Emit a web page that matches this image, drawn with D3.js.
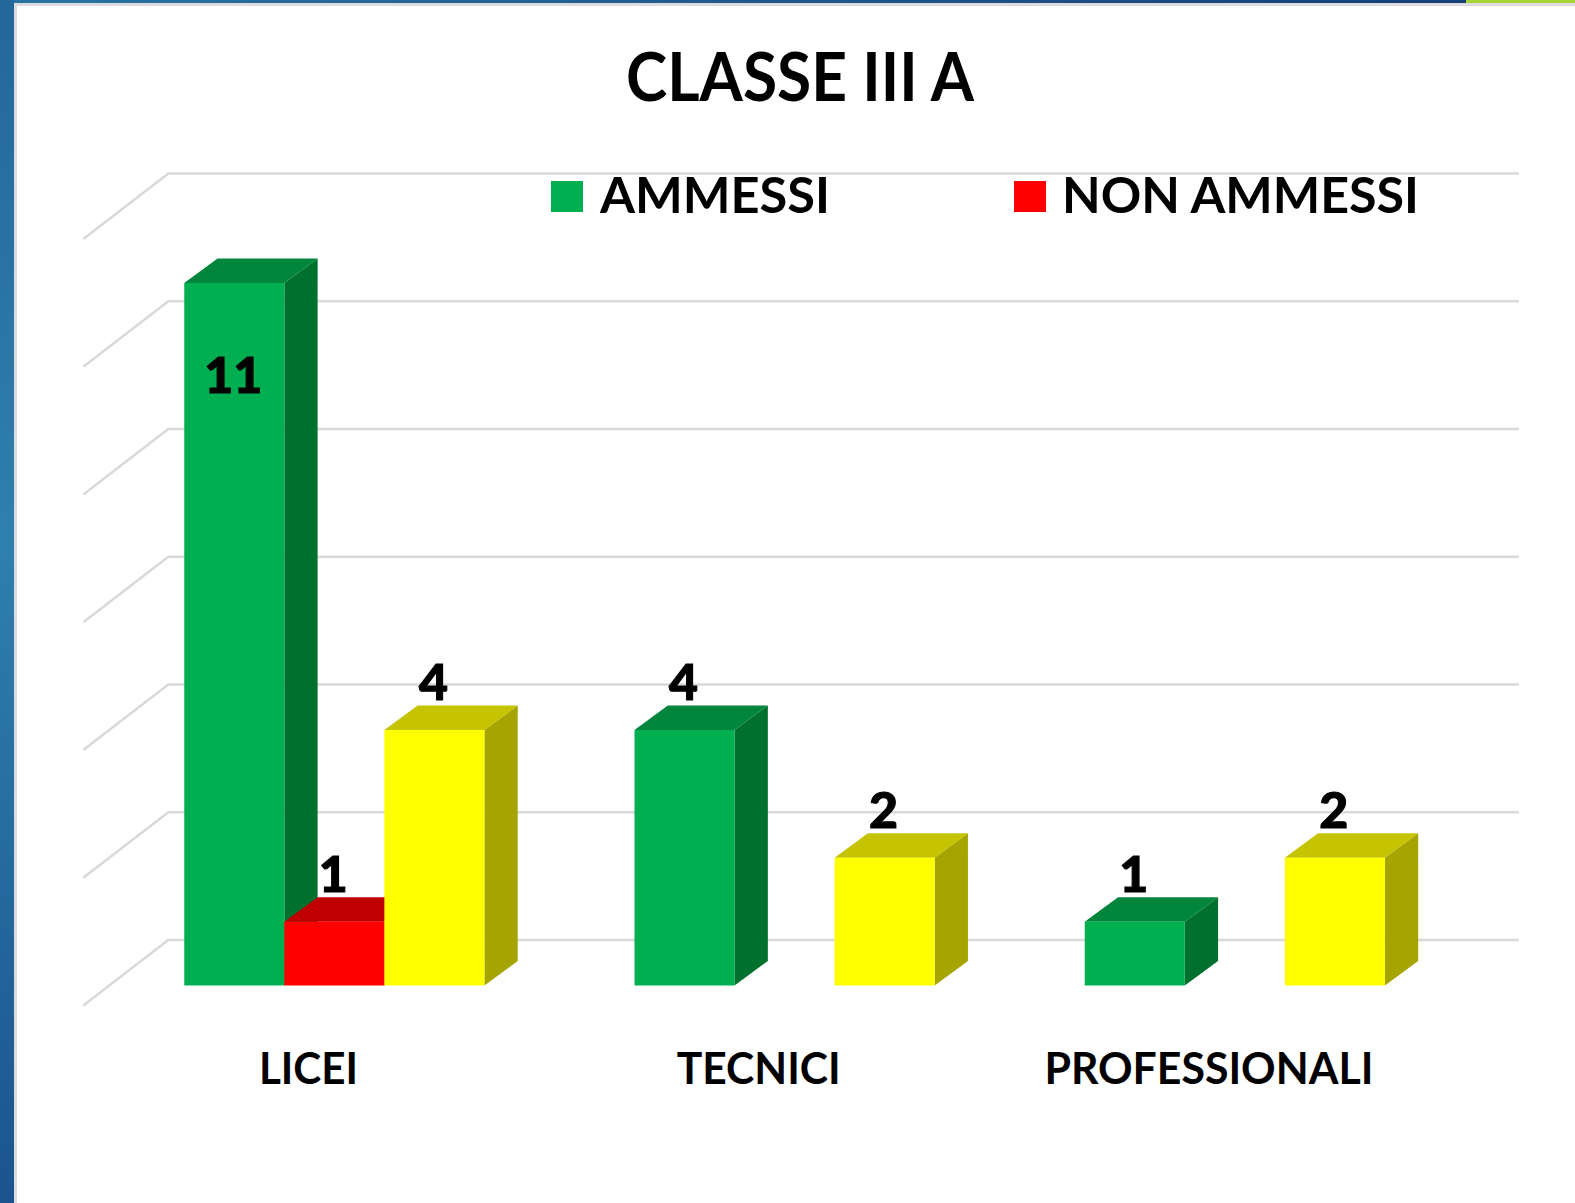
<!DOCTYPE html>
<html>
<head>
<meta charset="utf-8">
<script src="https://cdn.jsdelivr.net/npm/d3@7"></script>
<style>
  html, body { margin: 0; padding: 0; background: #ffffff; }
  svg { display: block; }
  text { font-family: Lato, "Open Sans", "DejaVu Sans", sans-serif; font-weight: 700; fill: #000; }
  .vlabel { font-weight: 900; stroke: #000; stroke-width: 1.1px; }
</style>
</head>
<body>
<svg id="chart" width="1575" height="1203"></svg>
<script>
// ---- data ----
const categories = ["LICEI", "TECNICI", "PROFESSIONALI"];
const seriesKeys = ["ammessi", "nonAmmessi", "terza"];
const legendLabels = ["AMMESSI", "NON AMMESSI"];
const ammessi = [11, 4, 1];
const nonAmmessi = [1, null, null];
const terzaSerie = [4, 2, 2];
const yTicks = [0, 2, 4, 6, 8, 10, 12];
const chartTitle = "CLASSE III A";

const seriesValues = { ammessi: ammessi, nonAmmessi: nonAmmessi, terza: terzaSerie };
const palette = {
  ammessi:    { front: "#00B050", top: "#00853C", side: "#00702F" },
  nonAmmessi: { front: "#FF0000", top: "#C00000", side: "#9E0000" },
  terza:      { front: "#FFFF00", top: "#C6C300", side: "#A6A400" }
};

const svg = d3.select("#chart");

// ---- frame decoration ----
const defs = svg.append("defs");
const lg = defs.append("linearGradient").attr("id", "leftBlue").attr("x1", 0).attr("y1", 0).attr("x2", 0).attr("y2", 1);
lg.append("stop").attr("offset", "0%").attr("stop-color", "#24679a");
lg.append("stop").attr("offset", "45%").attr("stop-color", "#2e80ad");
lg.append("stop").attr("offset", "100%").attr("stop-color", "#1b548e");
const tg = defs.append("linearGradient").attr("id", "topBlue").attr("x1", 0).attr("y1", 0).attr("x2", 1).attr("y2", 0);
tg.append("stop").attr("offset", "0%").attr("stop-color", "#2a74a5");
tg.append("stop").attr("offset", "100%").attr("stop-color", "#173f78");

svg.append("rect").attr("x", 0).attr("y", 0).attr("width", 1575).attr("height", 1203).attr("fill", "#ffffff");
svg.append("rect").attr("x", 14).attr("y", 3).attr("width", 1561).attr("height", 3).attr("fill", "#dcdcdc");
svg.append("rect").attr("x", 14).attr("y", 3).attr("width", 3).attr("height", 1200).attr("fill", "#dcdcdc");
svg.append("rect").attr("x", 0).attr("y", 0).attr("width", 1466).attr("height", 3).attr("fill", "url(#topBlue)");
svg.append("rect").attr("x", 1466).attr("y", 0).attr("width", 109).attr("height", 3).attr("fill", "#a9d238");
svg.append("rect").attr("x", 0).attr("y", 0).attr("width", 14).attr("height", 1203).attr("fill", "url(#leftBlue)");

// ---- oblique 3D projection ----
const X0 = 168.3, Y0 = 940, W = 1350.7, H = 766.5;
const DX = -85, DY = 65.5;          // back (z=0) -> front (z=1)
const ZB = 0.32, ZF = 0.695;        // bar depth range
const BAR_DX = -33.3, BAR_DY = 24.5; // bar depth vector (back -> front face)

const xBand = d3.scaleBand().domain(categories).range([0, W]).paddingInner(1 / 3).paddingOuter(1 / 6);
const xSeries = d3.scaleBand().domain(seriesKeys).range([0, xBand.bandwidth()]);
const y = d3.scaleLinear().domain([0, 12]).range([0, H]);

function P(x, v, z) { return [X0 + x + z * DX, Y0 - y(v) + z * DY]; }
const back = p => [p[0] - BAR_DX, p[1] - BAR_DY];
const poly = pts => "M" + pts.map(p => p[0].toFixed(2) + "," + p[1].toFixed(2)).join("L") + "Z";

// ---- gridlines (back wall + side wall) ----
const grid = svg.append("g").attr("fill", "none").attr("stroke", "#d9d9d9").attr("stroke-width", 2.5);
yTicks.forEach(t => {
  const a = P(0, t, 0), b = P(W, t, 0), c = P(0, t, 1);
  grid.append("path").attr("d", `M${c[0]},${c[1]}L${a[0]},${a[1]}L${b[0]},${b[1]}`);
});

// ---- bars ----
const bars = svg.append("g");
const labels = svg.append("g").attr("text-anchor", "middle").style("font-size", "50px");
categories.forEach((cat, ci) => {
  seriesKeys.forEach(key => {
    const v = seriesValues[key][ci];
    if (v === null || v === undefined) return;
    const x1 = xBand(cat) + xSeries(key);
    const x2 = x1 + xSeries.bandwidth();
    const col = palette[key];
    const f00 = P(x1, 0, ZF), f10 = P(x2, 0, ZF), f11 = P(x2, v, ZF), f01 = P(x1, v, ZF);
    bars.append("path").attr("fill", col.side)
      .attr("d", poly([f10, back(f10), back(f11), f11]));
    bars.append("path").attr("fill", col.top)
      .attr("d", poly([f01, f11, back(f11), back(f01)]));
    bars.append("path").attr("fill", col.front)
      .attr("d", poly([f00, f10, f11, f01]));
    const ft = P((x1 + x2) / 2, v, ZF);
    const ly = v > 10 ? ft[1] + 110 : ft[1] - 30;
    labels.append("text").attr("class", "vlabel").attr("x", ft[0] - 1).attr("y", ly).text(v);
  });
});

// ---- category labels ----
const catWidths = { "LICEI": 99, "TECNICI": 164, "PROFESSIONALI": 329 };
svg.append("g").attr("text-anchor", "middle").style("font-size", "43px")
  .selectAll("text").data(categories).join("text")
  .attr("x", d => P(xBand(d) + xBand.bandwidth() / 2, 0, 1)[0])
  .attr("y", 1084)
  .attr("textLength", d => catWidths[d])
  .attr("lengthAdjust", "spacingAndGlyphs")
  .text(d => d);

// ---- title ----
svg.append("text").attr("x", 800).attr("y", 101).attr("text-anchor", "middle")
  .style("font-size", "67px").attr("textLength", 348).attr("lengthAdjust", "spacingAndGlyphs")
  .text(chartTitle);

// ---- legend ----
const legendItems = [
  { label: legendLabels[0], color: palette.ammessi.front, sx: 551, tx: 600, w: 230 },
  { label: legendLabels[1], color: palette.nonAmmessi.front, sx: 1014, tx: 1062, w: 357 }
];
const leg = svg.append("g");
legendItems.forEach(it => {
  leg.append("rect").attr("x", it.sx).attr("y", 181).attr("width", 32).attr("height", 31).attr("fill", it.color);
  leg.append("text").attr("x", it.tx).attr("y", 213).style("font-size", "50px")
    .attr("textLength", it.w).attr("lengthAdjust", "spacingAndGlyphs").text(it.label);
});
</script>
</body>
</html>
